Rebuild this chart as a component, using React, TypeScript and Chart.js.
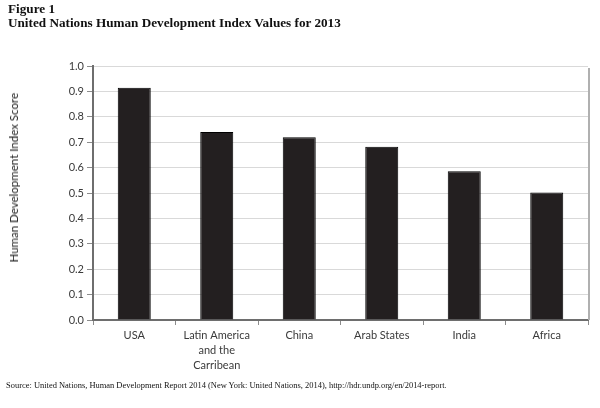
import React, { useEffect, useRef } from "react";
import { Chart, registerables } from "chart.js";

Chart.register(...registerables);

const categories: (string | string[])[] = [
  "USA",
  ["Latin America", "and the", "Carribean"],
  "China",
  "Arab States",
  "India",
  "Africa",
];
const hdiValues = [0.914, 0.74, 0.719, 0.682, 0.586, 0.502];
const yTicks = [0, 0.1, 0.2, 0.3, 0.4, 0.5, 0.6, 0.7, 0.8, 0.9, 1.0];

const titleLine1 = "Figure 1";
const titleLine2 = "United Nations Human Development Index Values for 2013";
const sourceText =
  "Source: United Nations, Human Development Report 2014 (New York: United Nations, 2014), http://hdr.undp.org/en/2014-report.";
const yAxisTitle = "Human Development Index Score";

const SANS = "Lato, 'Liberation Sans', sans-serif";
const SERIF = "'Liberation Serif', 'DejaVu Serif', serif";

export default function App() {
  const ref = useRef<HTMLCanvasElement | null>(null);

  useEffect(() => {
    if (!ref.current) return;
    const rightEdge = {
      id: "rightEdge",
      afterDatasetsDraw(chart: any) {
        const { ctx, chartArea } = chart;
        ctx.save();
        ctx.strokeStyle = "#b0b0b0";
        ctx.lineWidth = 2;
        ctx.beginPath();
        ctx.moveTo(chartArea.right + 1, chartArea.top + 2);
        ctx.lineTo(chartArea.right + 1, chartArea.bottom);
        ctx.stroke();
        ctx.restore();
      },
    };
    const chart = new Chart(ref.current, {
      type: "bar",
      data: {
        labels: categories,
        datasets: [
          {
            data: hdiValues,
            backgroundColor: "#231f20",
            borderColor: "#000000",
            borderWidth: 1,
            barPercentage: 0.4,
            categoryPercentage: 1,
          },
        ],
      },
      options: {
        animation: false,
        responsive: false,
        devicePixelRatio: 1,
        layout: { padding: { left: 0, right: 12, top: 66, bottom: 0 } },
        plugins: {
          legend: { display: false },
          tooltip: { enabled: false },
        },
        scales: {
          x: {
            offset: true,
            grid: {
              offset: true,
              drawOnChartArea: false,
              tickLength: 5,
              tickColor: "#8c8c8c",
              color: "#8c8c8c",
            },
            border: { color: "#6e6e6e", width: 2 },
            ticks: {
              color: "#3a3a3a",
              font: { family: SANS, size: 11, lineHeight: 1.36 },
              padding: 3,
              maxRotation: 0,
              autoSkip: false,
            },
            afterFit(scale: any) {
              scale.height = 88;
            },
          },
          y: {
            min: 0,
            max: 1,
            afterBuildTicks(scale: any) {
              scale.ticks = yTicks.map((v) => ({ value: v }));
            },
            ticks: {
              color: "#3a3a3a",
              font: { family: SANS, size: 11 },
              padding: 3,
              callback: (v: any) => Number(v).toFixed(1),
            },
            grid: {
              color: "#d9d9d9",
              lineWidth: 1,
              tickLength: 6,
              tickColor: "#8c8c8c",
            },
            border: { color: "#6e6e6e", width: 2 },
            afterFit(scale: any) {
              scale.width = 93;
            },
          },
        },
      },
      plugins: [rightEdge],
    });
    return () => chart.destroy();
  }, []);

  return (
    <div
      style={{
        position: "fixed",
        left: 0,
        top: 0,
        width: 600,
        height: 408,
        background: "#ffffff",
      }}
    >
      <canvas ref={ref} width={600} height={408} style={{ position: "absolute", left: 0, top: 0 }} />
      <div
        style={{
          position: "absolute",
          left: 8,
          top: 2,
          fontFamily: SERIF,
          fontWeight: "bold",
          fontSize: 13.2,
          lineHeight: "13.5px",
          color: "#111",
          whiteSpace: "nowrap",
        }}
      >
        <div>{titleLine1}</div>
        <div>{titleLine2}</div>
      </div>
      <div
        style={{
          position: "absolute",
          left: 7,
          top: 93,
          writingMode: "vertical-rl",
          transform: "rotate(180deg)",
          fontFamily: SANS,
          fontSize: 11.5,
          lineHeight: "14px",
          color: "#222",
          whiteSpace: "nowrap",
        }}
      >
        {yAxisTitle}
      </div>
      <div
        style={{
          position: "absolute",
          left: 6,
          top: 380,
          fontFamily: SERIF,
          fontSize: 8.45,
          lineHeight: "10px",
          color: "#111",
          whiteSpace: "nowrap",
        }}
      >
        {sourceText}
      </div>
    </div>
  );
}
